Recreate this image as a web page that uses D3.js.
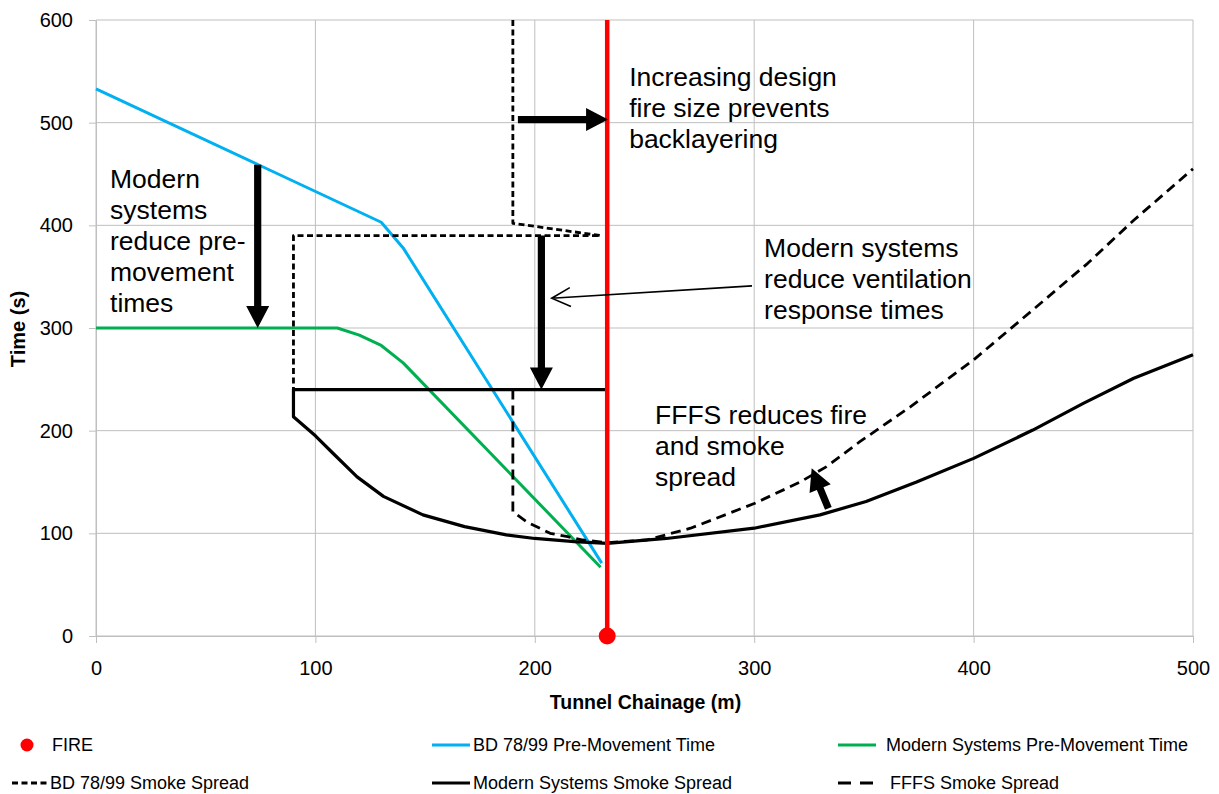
<!DOCTYPE html>
<html>
<head>
<meta charset="utf-8">
<script src="https://cdn.jsdelivr.net/npm/d3@7"></script>
<style>
  body { margin: 0; background: #fff; }
  #chart { width: 1219px; height: 794px; }
  text { font-family: "Liberation Sans", Arial, sans-serif; fill: #000; }
</style>
</head>
<body>
<div id="chart"></div>
<script>
// tick values
const xTicks = [0, 100, 200, 300, 400, 500]
const yTicks = [0, 100, 200, 300, 400, 500, 600]

// fire location (m)
const fireChainage = 233

// series, [chainage (m), time (s)]
const bdPreMovement = [[0, 533], [74, 459], [130, 403], [140, 378], [230.5, 71]]
const modernPreMovement = [[0, 300], [110, 300], [120, 293], [130, 283], [140, 266], [230, 67]]
const bdSmoke = [[190, 600], [190, 402], [230, 390], [90, 390], [90, 240]]
const modernSmoke = [[233, 240], [90, 240], [90, 213.6], [100, 195], [108, 178], [119, 155], [131, 136],
    [149, 118], [168, 106.5], [187, 98.5], [200, 95], [218, 92], [233, 90.3], [260, 95], [300, 105],
    [330, 118], [351, 131], [374, 150], [400, 173], [427, 200.6], [450, 226.6], [473, 251], [500, 274]]
const fffsSmoke = [[190, 240], [190, 121], [196.5, 111], [207, 100], [215, 96.7], [222, 93.5], [233, 91],
    [251, 93.5], [271, 105], [300, 129], [321, 150], [333, 165], [348, 189], [371, 223], [400, 269],
    [420, 305], [452, 363], [473, 405], [500, 455]]

const legendLabels = ["FIRE", "BD 78/99 Pre-Movement Time", "Modern Systems Pre-Movement Time",
    "BD 78/99 Smoke Spread", "Modern Systems Smoke Spread", "FFFS Smoke Spread"]

// annotations: anchor in data units, lines of text
const notes = [
    { x: 6.4, y: 436.4, lines: ["Modern", "systems", "reduce pre-", "movement", "times"] },
    { x: 243, y: 535.7, lines: ["Increasing design", "fire size prevents", "backlayering"] },
    { x: 304.5, y: 369.6, lines: ["Modern systems", "reduce ventilation", "response times"] },
    { x: 254.8, y: 206.5, lines: ["FFFS reduces fire", "and smoke", "spread"] }
]
// thick arrows [from, to] in data units
const thickArrows = [
    [[73.7, 459], [73.7, 300]],
    [[192.3, 503], [233.4, 503]],
    [[203, 390], [203, 240]],
    [[333.8, 124.4], [326.2, 163.3]]
]
const thinArrows = [
    [[299, 341], [207.7, 329]]
]

function draw(element_id) {
    const margin = { top: 20, right: 26, bottom: 158, left: 96 };
    const width = 1219 - margin.left - margin.right
    const height = 794 - margin.top - margin.bottom
    const root = d3.select(`#${element_id}`)
        .append("svg")
        .attr("width", 1219)
        .attr("height", 794)
    const svg = root.append("g")
        .attr("transform", `translate(${margin.left},${margin.top})`);

    const x = d3.scaleLinear().domain([0, 500]).range([0, width]);
    const y = d3.scaleLinear().domain([0, 600]).range([height, 0]);
    const grid = "#bfbfbf"

    // gridlines
    svg.append("g").selectAll("line")
        .data(xTicks)
        .enter().append("line")
        .attr("x1", d => x(d)).attr("x2", d => x(d))
        .attr("y1", 0).attr("y2", height)
        .attr("stroke", grid);
    svg.append("g").selectAll("line")
        .data(yTicks)
        .enter().append("line")
        .attr("x1", 0).attr("x2", width)
        .attr("y1", d => y(d)).attr("y2", d => y(d))
        .attr("stroke", grid);

    const xAxis = svg.append("g")
        .attr("transform", `translate(0,${height})`)
        .call(d3.axisBottom(x).tickValues(xTicks).tickSize(7).tickSizeOuter(0).tickPadding(18));
    const yAxis = svg.append("g")
        .call(d3.axisLeft(y).tickValues(yTicks).tickSize(7).tickSizeOuter(0).tickPadding(16));
    [xAxis, yAxis].forEach(a => {
        a.select(".domain").attr("stroke", grid);
        a.selectAll(".tick line").attr("stroke", grid);
        a.selectAll(".tick text")
            .attr("font-family", "'Liberation Sans', Arial, sans-serif")
            .attr("font-size", 20)
            .attr("fill", "#000");
    });

    const line = d3.line()
        .x(d => x(d[0]))
        .y(d => y(d[1]));

    const series = [
        { data: bdPreMovement, color: "#00b0f0", width: 3, dash: null },
        { data: modernPreMovement, color: "#00b050", width: 3, dash: null },
        { data: bdSmoke, color: "#000", width: 2.8, dash: "6,3.5" },
        { data: modernSmoke, color: "#000", width: 3.2, dash: null },
        { data: fffsSmoke, color: "#000", width: 2.8, dash: "10,6" }
    ];
    series.forEach(s => {
        svg.append("path")
            .datum(s.data)
            .attr("fill", "none")
            .attr("stroke", s.color)
            .attr("stroke-width", s.width)
            .attr("stroke-dasharray", s.dash)
            .attr("stroke-linejoin", "round")
            .attr("d", line);
    });

    // fire
    svg.append("line")
        .attr("x1", x(fireChainage)).attr("x2", x(fireChainage))
        .attr("y1", y(0)).attr("y2", y(600))
        .attr("stroke", "#ff0000")
        .attr("stroke-width", 4.5);
    svg.append("circle")
        .attr("cx", x(fireChainage))
        .attr("cy", y(0))
        .attr("r", 8.5)
        .attr("fill", "#ff0000");

    // thick arrows
    thickArrows.forEach(([a, b]) => {
        const x1 = x(a[0]), y1 = y(a[1]), x2 = x(b[0]), y2 = y(b[1])
        const len = Math.hypot(x2 - x1, y2 - y1)
        const ux = (x2 - x1) / len, uy = (y2 - y1) / len
        const nx = -uy, ny = ux
        const w = 3.6, hl = 22, hw = 11.5
        const neckX = x2 - ux * hl, neckY = y2 - uy * hl
        const pts = [
            [x1 + nx * w, y1 + ny * w],
            [neckX + nx * w, neckY + ny * w],
            [neckX + nx * hw, neckY + ny * hw],
            [x2, y2],
            [neckX - nx * hw, neckY - ny * hw],
            [neckX - nx * w, neckY - ny * w],
            [x1 - nx * w, y1 - ny * w]
        ]
        svg.append("polygon")
            .attr("points", pts.map(p => p.join(",")).join(" "))
            .attr("fill", "#000");
    });

    // thin arrow with open head
    thinArrows.forEach(([a, b]) => {
        const x1 = x(a[0]), y1 = y(a[1]), x2 = x(b[0]), y2 = y(b[1])
        const ang = Math.atan2(y1 - y2, x1 - x2)
        const hl = 21, spread = 0.47
        const p = d3.path()
        p.moveTo(x1, y1); p.lineTo(x2, y2)
        p.moveTo(x2 + hl * Math.cos(ang + spread), y2 + hl * Math.sin(ang + spread))
        p.lineTo(x2, y2)
        p.lineTo(x2 + hl * Math.cos(ang - spread), y2 + hl * Math.sin(ang - spread))
        svg.append("path")
            .attr("d", p.toString())
            .attr("fill", "none")
            .attr("stroke", "#000")
            .attr("stroke-width", 1.6);
    });

    // annotation text
    notes.forEach(n => {
        const t = svg.append("text")
            .attr("x", x(n.x))
            .attr("y", y(n.y))
            .attr("font-size", 26.5);
        n.lines.forEach((l, i) => {
            t.append("tspan")
                .attr("x", x(n.x))
                .attr("dy", i === 0 ? 0 : 31)
                .text(l);
        });
    });

    // axis titles
    svg.append("text")
        .attr("x", width / 2 + 1)
        .attr("y", height + 73)
        .attr("text-anchor", "middle")
        .attr("font-size", 19.5)
        .attr("font-weight", "bold")
        .text("Tunnel Chainage (m)");
    svg.append("text")
        .attr("transform", "rotate(-90)")
        .attr("x", -(y(300) + 1))
        .attr("y", -71)
        .attr("text-anchor", "middle")
        .attr("font-size", 20)
        .attr("font-weight", "bold")
        .text("Time (s)");

    // legend
    const legendStyle = [
        { kind: "dot", color: "#ff0000" },
        { kind: "line", color: "#00b0f0", dash: null },
        { kind: "line", color: "#00b050", dash: null },
        { kind: "line", color: "#000", dash: "6,3.5" },
        { kind: "line", color: "#000", dash: null },
        { kind: "line", color: "#000", dash: "13,9" }
    ]
    const slots = [[12, 745, 52], [432, 745, 473], [838, 745, 886], [12, 783, 50], [432, 783, 473], [838, 783, 890]]
    const legend = root.append("g")
    legendLabels.forEach((label, i) => {
        const st = legendStyle[i], [lx, ly, tx] = slots[i]
        if (st.kind === "dot") {
            legend.append("circle")
                .attr("cx", lx + 15).attr("cy", ly).attr("r", 6.5)
                .attr("fill", st.color);
        } else {
            legend.append("line")
                .attr("x1", lx).attr("x2", lx + 38)
                .attr("y1", ly).attr("y2", ly)
                .attr("stroke", st.color)
                .attr("stroke-width", 3)
                .attr("stroke-dasharray", st.dash);
        }
        legend.append("text")
            .attr("x", tx)
            .attr("y", ly)
            .attr("dy", "0.36em")
            .attr("font-size", 18)
            .text(label);
    });
}

draw("chart")
</script>
</body>
</html>
